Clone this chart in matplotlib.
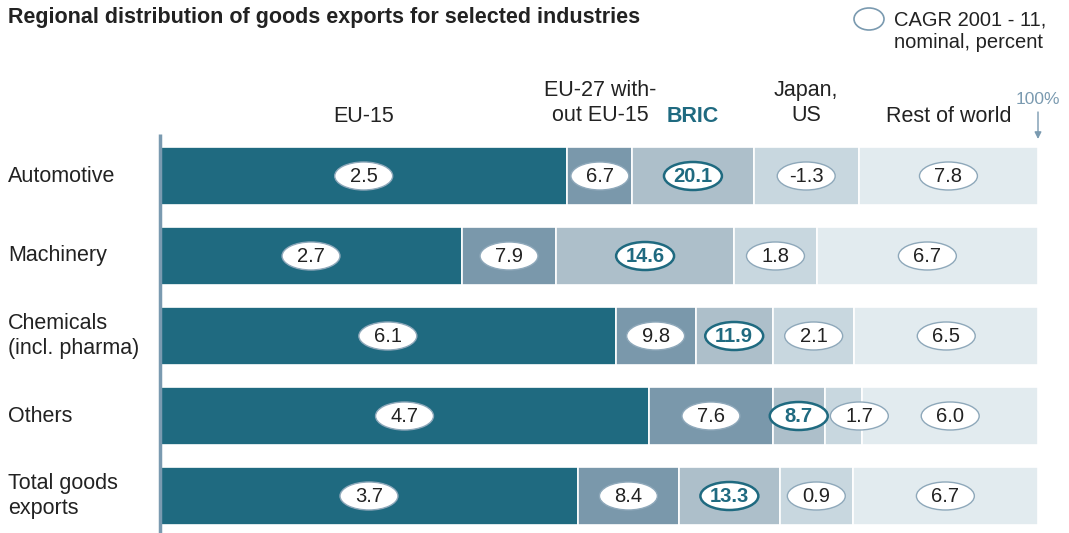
import matplotlib.pyplot as plt
import matplotlib.transforms as mtransforms
from matplotlib.patches import Ellipse

categories = ["Automotive", "Machinery", "Chemicals\n(incl. pharma)", "Others", "Total goods\nexports"]
regions = ["EU-15", "EU-27 with-\nout EU-15", "BRIC", "Japan,\nUS", "Rest of world"]

# share of exports per region (percent of row)
eu15 = [46.4, 34.4, 51.9, 55.7, 47.6]
eu27 = [7.4, 10.7, 9.1, 14.1, 11.5]
bric = [13.8, 20.3, 8.8, 5.9, 11.5]
japan_us = [12.0, 9.4, 9.3, 4.3, 8.3]
rest = [20.4, 25.2, 20.9, 20.0, 21.1]

# CAGR 2001-11, nominal, percent
cagr_eu15 = [2.5, 2.7, 6.1, 4.7, 3.7]
cagr_eu27 = [6.7, 7.9, 9.8, 7.6, 8.4]
cagr_bric = [20.1, 14.6, 11.9, 8.7, 13.3]
cagr_japan_us = [-1.3, 1.8, 2.1, 1.7, 0.9]
cagr_rest = [7.8, 6.7, 6.5, 6.0, 6.7]

shares = [eu15, eu27, bric, japan_us, rest]
cagrs = [cagr_eu15, cagr_eu27, cagr_bric, cagr_japan_us, cagr_rest]
colors = ["#1f6a80", "#7a98ab", "#adbfca", "#c8d7df", "#e2ebef"]
teal = "#1f6a80"
grey_line = "#7a9ab0"
txt = "#222222"

plt.rcParams['font.family'] = ['Liberation Sans', 'DejaVu Sans']

W, H = 1069, 533
fig = plt.figure(figsize=(W / 100, H / 100), dpi=100)
ax = fig.add_axes([160 / W, 0, 878 / W, 398 / H])
ax.set_xlim(0, 100)
ax.set_ylim(4.4625, -0.5125)
ax.axis('off')
ax.plot([0, 0], [-0.53, 4.4625], color=grey_line, lw=2.5, clip_on=False,
        solid_capstyle='butt')

n = len(categories)
ell_w, ell_h = 6.6, 0.35
for i in range(n):
    left = 0
    prev_cx = None
    for k in range(len(shares)):
        w = shares[k][i]
        ax.barh(i, w, left=left, height=0.72, color=colors[k],
                edgecolor='white', linewidth=1.2)
        cx = left + w / 2
        if prev_cx is not None and cx - prev_cx < ell_w + 0.4:
            cx = prev_cx + ell_w + 0.3
        prev_cx = cx
        is_bric = (k == 2)
        ax.add_patch(Ellipse((cx, i), ell_w, ell_h, facecolor='white',
                             edgecolor=teal if is_bric else "#8ea8ba",
                             lw=1.8 if is_bric else 1.0, zorder=3))
        ax.text(cx, i + 0.01, f"{cagrs[k][i]:.1f}", ha='center', va='center',
                fontsize=14.5, zorder=4,
                color=teal if is_bric else txt,
                fontweight='bold' if is_bric else 'normal')
        left += w

# column headers, centred over first row segments
hdr = mtransforms.blended_transform_factory(ax.transData, fig.transFigure)
left = 0
for k, name in enumerate(regions):
    w = shares[k][0]
    ypix = 103 if "\n" in name else 116
    ax.text(left + w / 2, 1 - ypix / H, name, transform=hdr, ha='center',
            va='center', fontsize=15.5, linespacing=1.2,
            color=teal if name == "BRIC" else txt,
            fontweight='bold' if name == "BRIC" else 'normal')
    left += w

# 100% marker
ax.text(100, 1 - 100 / H, "100%", transform=hdr, ha='center', va='center',
        fontsize=12.5, color=grey_line)
ax.annotate("", xy=(100, 1 - 139 / H), xytext=(100, 1 - 112 / H),
            xycoords=hdr, textcoords=hdr,
            arrowprops=dict(arrowstyle='-|>', color=grey_line, lw=1,
                            mutation_scale=10, shrinkA=0, shrinkB=0))

# row labels
for i, cat in enumerate(categories):
    ax.text(8 / W, i, cat, transform=mtransforms.blended_transform_factory(
        fig.transFigure, ax.transData), ha='left', va='center',
        fontsize=15.5, linespacing=1.2, color=txt)

fig.text(8 / W, 1 - 18 / H, "Regional distribution of goods exports for selected industries",
         ha='left', va='center', fontsize=15.5, fontweight='bold', color=txt)

# legend
fig.patches.append(Ellipse((869 / W, 1 - 19 / H), 30 / W, 22 / H,
                           transform=fig.transFigure, facecolor='white',
                           edgecolor=grey_line, lw=1.2))
fig.text(894 / W, 1 - 31 / H, "CAGR 2001 - 11,\nnominal, percent", ha='left',
         va='center', fontsize=14.5, linespacing=1.25, color=txt)

fig.savefig("out.png", dpi=100)
